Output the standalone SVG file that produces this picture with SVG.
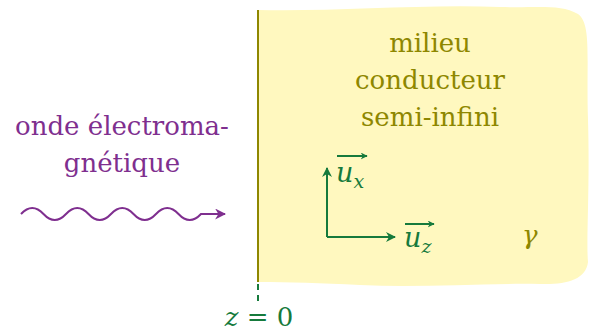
<svg xmlns="http://www.w3.org/2000/svg" width="590" height="331" viewBox="0 0 590 331">
<style>
.olive{fill:#8e8700;font-family:"DejaVu Serif",serif;font-size:26px}
.purp{fill:#7f2f8f;font-family:"DejaVu Serif",serif;font-size:26px}
.grn{fill:#167a3c;font-family:"DejaVu Serif",serif}
.it{font-style:italic}
.gl{stroke:#167a3c;stroke-width:2;fill:none}
</style>
<defs>
<marker id="ga" viewBox="0 0 10 10" refX="9" refY="5" markerWidth="10" markerHeight="10" markerUnits="userSpaceOnUse" orient="auto"><path d="M0,0 L10,5 L0,10 L3,5 Z" fill="#167a3c"/></marker>
<marker id="gs" viewBox="0 0 10 10" refX="9" refY="5" markerWidth="7" markerHeight="7" markerUnits="userSpaceOnUse" orient="auto"><path d="M0,0 L10,5 L0,10 L3,5 Z" fill="#167a3c"/></marker>
<marker id="pa" viewBox="0 0 10 10" refX="9" refY="5" markerWidth="11" markerHeight="11" markerUnits="userSpaceOnUse" orient="auto"><path d="M0,0 L10,5 L0,10 L3,5 Z" fill="#7f2f8f"/></marker>
</defs>
<g id="milieu">
<path d="M258,10 C330,12 420,4 500,7 C540,8 560,4 578,14 C592,24 586,60 588,120 C590,190 586,240 588,262 C586,280 565,285 540,284 C480,283 420,288 360,285 C320,283 290,282 258,282 Z" fill="#fff8bf"/>
<line x1="258" y1="10" x2="258" y2="282" stroke="#8e8700" stroke-width="2"/>
<text class="olive" text-anchor="middle" x="430" y="52">milieu</text>
<text class="olive" text-anchor="middle" x="430" y="89">conducteur</text>
<text class="olive" text-anchor="middle" x="430" y="126">semi-infini</text>
<text class="olive it" x="522" y="244" font-size="28">γ</text>
</g>
<g id="onde">
<text class="purp" text-anchor="middle" x="122" y="135">onde électroma-</text>
<text class="purp" text-anchor="middle" x="122" y="172">gnétique</text>
</g>
<g id="z0">
<text class="grn" text-anchor="middle" x="259" y="326" font-size="26"><tspan class="it">z</tspan> = 0</text>
</g>
<g id="ux">
<text class="grn it" x="336" y="182" font-size="27">u<tspan font-size="19" dy="6">x</tspan></text>
<line class="gl" x1="337" y1="156" x2="367" y2="156" stroke-width="1.5" marker-end="url(#gs)"/>
</g>
<g id="uz">
<text class="grn it" x="404" y="247" font-size="27">u<tspan font-size="19" dy="6">z</tspan></text>
<line class="gl" x1="405" y1="224" x2="434" y2="224" stroke-width="1.5" marker-end="url(#gs)"/>
</g>
<g id="connectors">
<line x1="258" y1="284" x2="258" y2="304" stroke="#167a3c" stroke-width="2" stroke-dasharray="6,5"/>
<path d="M21,214 q5.6,-6 11.25,-6 t11.25,6 t11.25,6 t11.25,-6 t11.25,-6 t11.25,6 t11.25,6 t11.25,-6 t11.25,-6 t11.25,6 t11.25,6 t11.25,-6 t11.25,-6 t11.25,6 t11.25,6 t11.25,-6 L225,214" fill="none" stroke="#7f2f8f" stroke-width="2" marker-end="url(#pa)"/>
<path class="gl" d="M327,237 L327,168" marker-end="url(#ga)"/>
<path class="gl" d="M327,237 L395,237" marker-end="url(#ga)"/>
</g>
</svg>
